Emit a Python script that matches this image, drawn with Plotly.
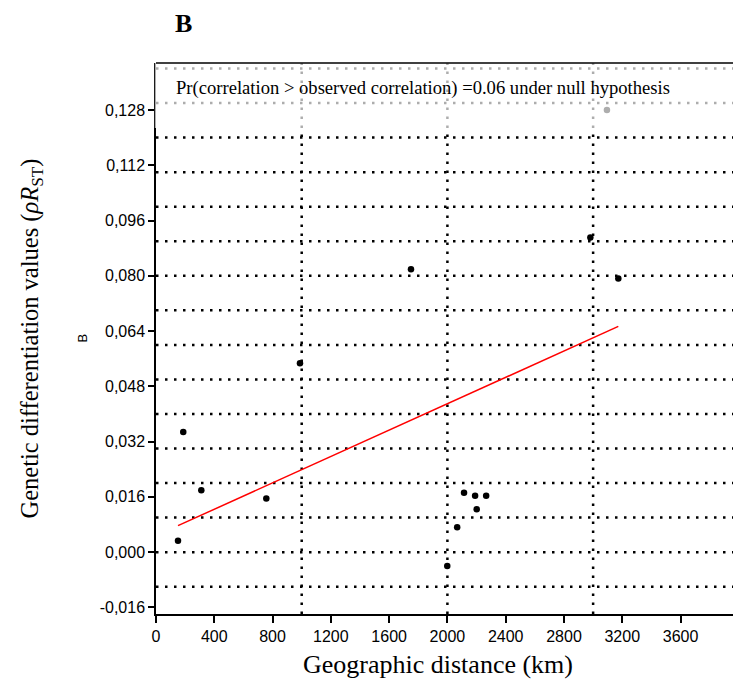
import plotly.graph_objects as go

# ---- data ----
DIST_KM = [151, 187, 311, 757, 988, 1750, 1999, 2067, 2114, 2190, 2201, 2266, 2981, 3173, 3095]
RST = [0.0033, 0.0348, 0.0179, 0.0155, 0.0547, 0.0819, -0.0040, 0.0072, 0.0172, 0.0163,
       0.0124, 0.0163, 0.0911, 0.0792, 0.1280]
REG_INTERCEPT = 0.00478
REG_SLOPE = 1.909e-5
XTICKS = [0, 400, 800, 1200, 1600, 2000, 2400, 2800, 3200, 3600]
YTICKS = [-0.016, 0.000, 0.016, 0.032, 0.048, 0.064, 0.080, 0.096, 0.112, 0.128]
YTICK_TEXT = [f"{v:.3f}".replace(".", ",") for v in YTICKS]
GRID_Y = [-0.01, 0.0, 0.01, 0.02, 0.03, 0.04, 0.05, 0.06, 0.07, 0.08, 0.09, 0.10, 0.11, 0.12, 0.13, 0.14]
GRID_X = [1000, 2000, 3000]
X_RANGE = [0, 3960]
Y_RANGE = [-0.0179, 0.1416]
FADE_FROM = 0.1228
ANNOT = "Pr(correlation > observed correlation) =0.06 under null hypothesis"

SERIF = "Liberation Serif, Times New Roman, serif"
SANS = "Liberation Sans, Arial, Helvetica, sans-serif"

fig = go.Figure()

xmin, xmax = min(DIST_KM), max(DIST_KM[:-1])
fig.add_trace(go.Scatter(
    x=DIST_KM, y=RST, mode="markers",
    marker=dict(color="black", size=6.5, line=dict(width=0)),
    showlegend=False, hoverinfo="skip"))
fig.add_trace(go.Scatter(
    x=[xmin, xmax],
    y=[REG_INTERCEPT + REG_SLOPE * xmin, REG_INTERCEPT + REG_SLOPE * xmax],
    mode="lines", line=dict(color="red", width=1.5),
    showlegend=False, hoverinfo="skip"))

shapes = []
for gy in GRID_Y:
    shapes.append(dict(type="line", xref="paper", x0=0, x1=1, yref="y", y0=gy, y1=gy,
                       line=dict(color="black", width=2.5, dash="2.5px,6.5px"), layer="below"))
for gx in GRID_X:
    shapes.append(dict(type="line", xref="x", x0=gx, x1=gx, yref="paper", y0=0, y1=1,
                       line=dict(color="black", width=2.5, dash="2.5px,6.5px"), layer="below"))
# faded top band
shapes.append(dict(type="rect", xref="paper", x0=-0.002, x1=1, yref="y", y0=FADE_FROM, y1=Y_RANGE[1],
                   fillcolor="white", opacity=0.68, line=dict(width=0), layer="above"))
# top frame line
shapes.append(dict(type="line", xref="paper", x0=0, x1=1, yref="paper", y0=1, y1=1,
                   line=dict(color="black", width=1.5), layer="above"))

annotations = [
    dict(text=ANNOT, xref="x", x=124, yref="y", y=0.1343, xanchor="left", yanchor="middle",
         showarrow=False, font=dict(family=SERIF, size=18.6, color="black")),
    dict(text="<b>B</b>", xref="paper", x=0.0485, yref="paper", y=1, yshift=40,
         xanchor="center", yanchor="middle", showarrow=False,
         font=dict(family=SERIF, size=26, color="black")),
    dict(text="B", xref="paper", x=0, xshift=-74, yref="paper", y=0.5, textangle=-90,
         xanchor="center", yanchor="middle", showarrow=False,
         font=dict(family=SANS, size=13, color="black")),
    dict(text="Genetic differentiation values (<i>ρR</i><sub>ST</sub>)", xref="paper", x=0, xshift=-125,
         yref="paper", y=0.5, textangle=-90, xanchor="center", yanchor="middle", showarrow=False,
         font=dict(family=SERIF, size=24.5, color="black")),
    dict(text="Geographic distance (km)", xref="paper", x=0.489, yref="paper", y=0, yshift=-50,
         xanchor="center", yanchor="middle", showarrow=False,
         font=dict(family=SERIF, size=26, color="black")),
]

fig.update_layout(
    width=733, height=687,
    margin=dict(l=156, r=0, t=63, b=73),
    paper_bgcolor="white", plot_bgcolor="white",
    shapes=shapes, annotations=annotations,
    xaxis=dict(range=X_RANGE, tickvals=XTICKS, ticks="outside", ticklen=7, tickwidth=1.5,
               tickcolor="black", showline=True, linecolor="black", linewidth=1.5,
               showgrid=False, zeroline=False, tickfont=dict(family=SANS, size=16, color="black")),
    yaxis=dict(range=Y_RANGE, tickvals=YTICKS, ticktext=YTICK_TEXT, ticks="outside", ticklen=6,
               tickwidth=1.5, tickcolor="black", showline=True, linecolor="black", linewidth=1.5,
               showgrid=False, zeroline=False, tickfont=dict(family=SANS, size=16, color="black")),
)

fig.write_html("out.html")
